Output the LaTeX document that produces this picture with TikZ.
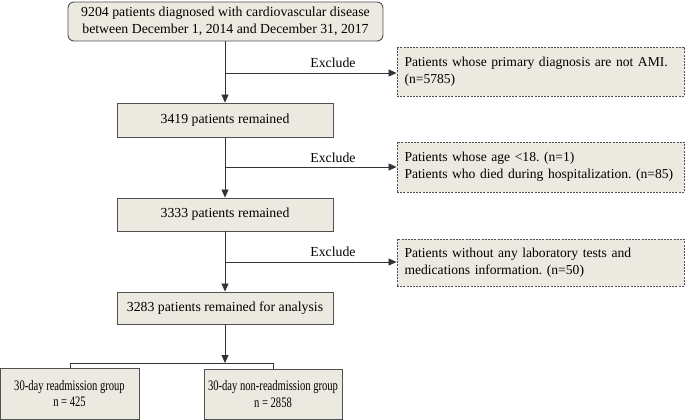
\documentclass[tikz,border=0pt]{standalone}
\usepackage{fontspec}
\setmainfont{Liberation Serif}
\newfontfamily\narrowfont{Liberation Serif}[FakeStretch=0.73]
\usetikzlibrary{arrows.meta}
\definecolor{boxfill}{HTML}{ECEAE0}
\definecolor{boxline}{HTML}{505050}
\tikzset{
  base/.style={draw=boxline, fill=boxfill, line width=0.9pt, inner sep=0pt, align=center,
    font=\fontsize{13.8}{17.5}\selectfont\frenchspacing},
  mainbox/.style={base},
  groupbox/.style={base, font=\narrowfont\fontsize{14.5}{16.5}\selectfont},
  exclbox/.style={base, dash pattern=on 2pt off 1.2pt, align=left, text width=#1,
    inner xsep=7.5pt, font=\fontsize{13.6}{17}\selectfont\frenchspacing},
  conn/.style={draw=black!80, line width=0.8pt},
  arr/.style={conn, -{Triangle[length=8pt,width=7pt]}},
  lbl/.style={font=\fontsize{13.8}{15}\selectfont, inner sep=0pt}
}
\begin{document}
\begin{tikzpicture}[x=1pt,y=-1pt]
\useasboundingbox (0,0) rectangle (685,420);
% main boxes
\node[mainbox, rounded corners=6pt, minimum width=315pt, minimum height=39pt] (top) at (225.5,21.5)
  {9204 patients diagnosed with cardiovascular disease\\between December 1, 2014 and December 31, 2017};
\node[mainbox, minimum width=216pt, minimum height=34pt] (b1) at (225,120) {3419 patients remained};
\node[mainbox, minimum width=216pt, minimum height=33pt] (b2) at (225,214.5) {3333 patients remained};
\node[mainbox, minimum width=216pt, minimum height=32pt] (b3) at (225,308) {3283 patients remained for analysis};
% exclusion boxes
\node[exclbox=272pt, minimum width=287pt, minimum height=49pt] (e1) at (540.5,71.5)
  {Patients whose primary diagnosis are not AMI.\\(n=5785)};
\node[exclbox=272pt, minimum width=287pt, minimum height=50pt] (e2) at (540.5,167)
  {Patients whose age <18. (n=1)\\Patients who died during hospitalization. (n=85)};
\node[exclbox=272pt, minimum width=287pt, minimum height=47pt] (e3) at (540.5,262.5)
  {Patients without any laboratory tests and\\medications information. (n=50)};
% bottom boxes
\node[groupbox, minimum width=139pt, minimum height=51pt] (g1) at (69.5,393.5)
  {30-day readmission group\\n = 425};
\node[groupbox, minimum width=138pt, minimum height=50pt] (g2) at (273,394)
  {30-day non-readmission group\\n = 2858};
% branch coordinates
\coordinate (j1) at (225,73);
\coordinate (j2) at (225,167);
\coordinate (j3) at (225,262);
\coordinate (split) at (225,363);
\coordinate (sl) at (70,363);
\coordinate (sr) at (273,363);
% connectors
\draw[arr] (top.south -| j1) -- (b1.north);
\draw[arr] (j1) -- (e1.west |- j1);
\draw[arr] (b1.south) -- (b2.north);
\draw[arr] (j2) -- (e2.west |- j2);
\draw[arr] (b2.south) -- (b3.north);
\draw[arr] (j3) -- (e3.west |- j3);
\draw[arr] (b3.south) -- (split);
\draw[conn] (g1.north -| sl) -- (sl) -- (sr) -- (g2.north -| sr);
% labels
\node[lbl] (x1) at (333,63) {Exclude};
\node[lbl] (x2) at (333,158) {Exclude};
\node[lbl] (x3) at (333,252) {Exclude};
\end{tikzpicture}
\end{document}
